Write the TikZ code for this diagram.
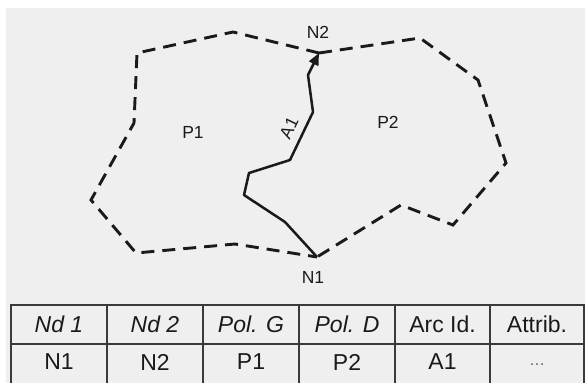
\documentclass[tikz,border=0pt]{standalone}
\usepackage{fontspec}
\setmainfont{Liberation Sans}
\usetikzlibrary{arrows.meta}
\definecolor{bg}{HTML}{EFEFEF}
\definecolor{ink}{HTML}{1A1A1A}
\definecolor{grid}{HTML}{3A3A3A}
\begin{document}
\begin{tikzpicture}[x=1pt,y=-1pt,
  bound/.style={draw=ink,line width=2.9pt,dash pattern=on 13pt off 8pt,line join=miter},
  arcline/.style={draw=ink,line width=2.5pt,line join=round,-{Triangle[length=12pt,width=10pt]}},
  lbl/.style={text=ink,font=\fontsize{17.5}{20}\selectfont,inner sep=0pt},
  cell/.style={text=ink,font=\fontsize{23}{26}\selectfont,inner sep=0pt},
  gridline/.style={draw=grid,line width=1.7pt}]
\useasboundingbox (0,0) rectangle (585,383);
\fill[white] (0,0) rectangle (585,383);
\fill[bg] (6,8) rectangle (585,383);
% polygon vertices
\coordinate (n2) at (319,53);
\coordinate (n1) at (317,257);
\coordinate (a) at (137,53);
\coordinate (b) at (233,32);
\coordinate (c) at (420,38);
\coordinate (d) at (478,80);
\coordinate (e) at (506,163);
\coordinate (f) at (453,225);
\coordinate (g) at (401,205);
\coordinate (h) at (235,244);
\coordinate (i) at (136,253);
\coordinate (j) at (91,200);
\coordinate (k) at (134,123);
% arc vertices
\coordinate (r1) at (285,222);
\coordinate (r2) at (244,195);
\coordinate (r3) at (249,173);
\coordinate (r4) at (290,160);
\coordinate (r5) at (313,112);
\coordinate (r6) at (308,75);
% boundaries
\draw[bound] (n2) -- (b) -- (a) -- (k) -- (j) -- (i) -- (h) -- (n1);
\draw[bound] (n2) -- (c) -- (d) -- (e) -- (f) -- (g) -- (n1);
% arc A1
\draw[arcline] (n1) -- (r1) -- (r2) -- (r3) -- (r4) -- (r5) -- (r6) -- (n2);
% labels
\node[lbl] (ln2) at (318,32) {N2};
\node[lbl] (ln1) at (313,277) {N1};
\node[lbl] (lp1) at (193,132) {P1};
\node[lbl] (lp2) at (388,122) {P2};
\node[lbl,rotate=64] (la1) at (289,128) {A1};
% table
\draw[gridline] (11,383) -- (11,305) -- (584,305) -- (584,383);
\draw[gridline] (11,344) -- (584,344);
\foreach \xx in {107,203,299,395,490} \draw[gridline] (\xx,305) -- (\xx,383);
\node[cell] (h1) at (59,324) {\itshape Nd 1};
\node[cell] (h2) at (155,324) {\itshape Nd 2};
\node[cell] (h3) at (251,324) {\itshape Pol. G};
\node[cell] (h4) at (347,324) {\itshape Pol. D};
\node[cell] (h5) at (442.5,324) {Arc Id.};
\node[cell] (h6) at (537,324) {Attrib.};
\node[cell] (v1) at (59,362) {N1};
\node[cell] (v2) at (155,362) {N2};
\node[cell] (v3) at (251,362) {P1};
\node[cell] (v4) at (347,362) {P2};
\node[cell] (v5) at (442.5,362) {A1};
\node[cell,text=ink!70] (v6) at (537,365) {\fontsize{16}{18}\selectfont \ldots};
\end{tikzpicture}
\end{document}
